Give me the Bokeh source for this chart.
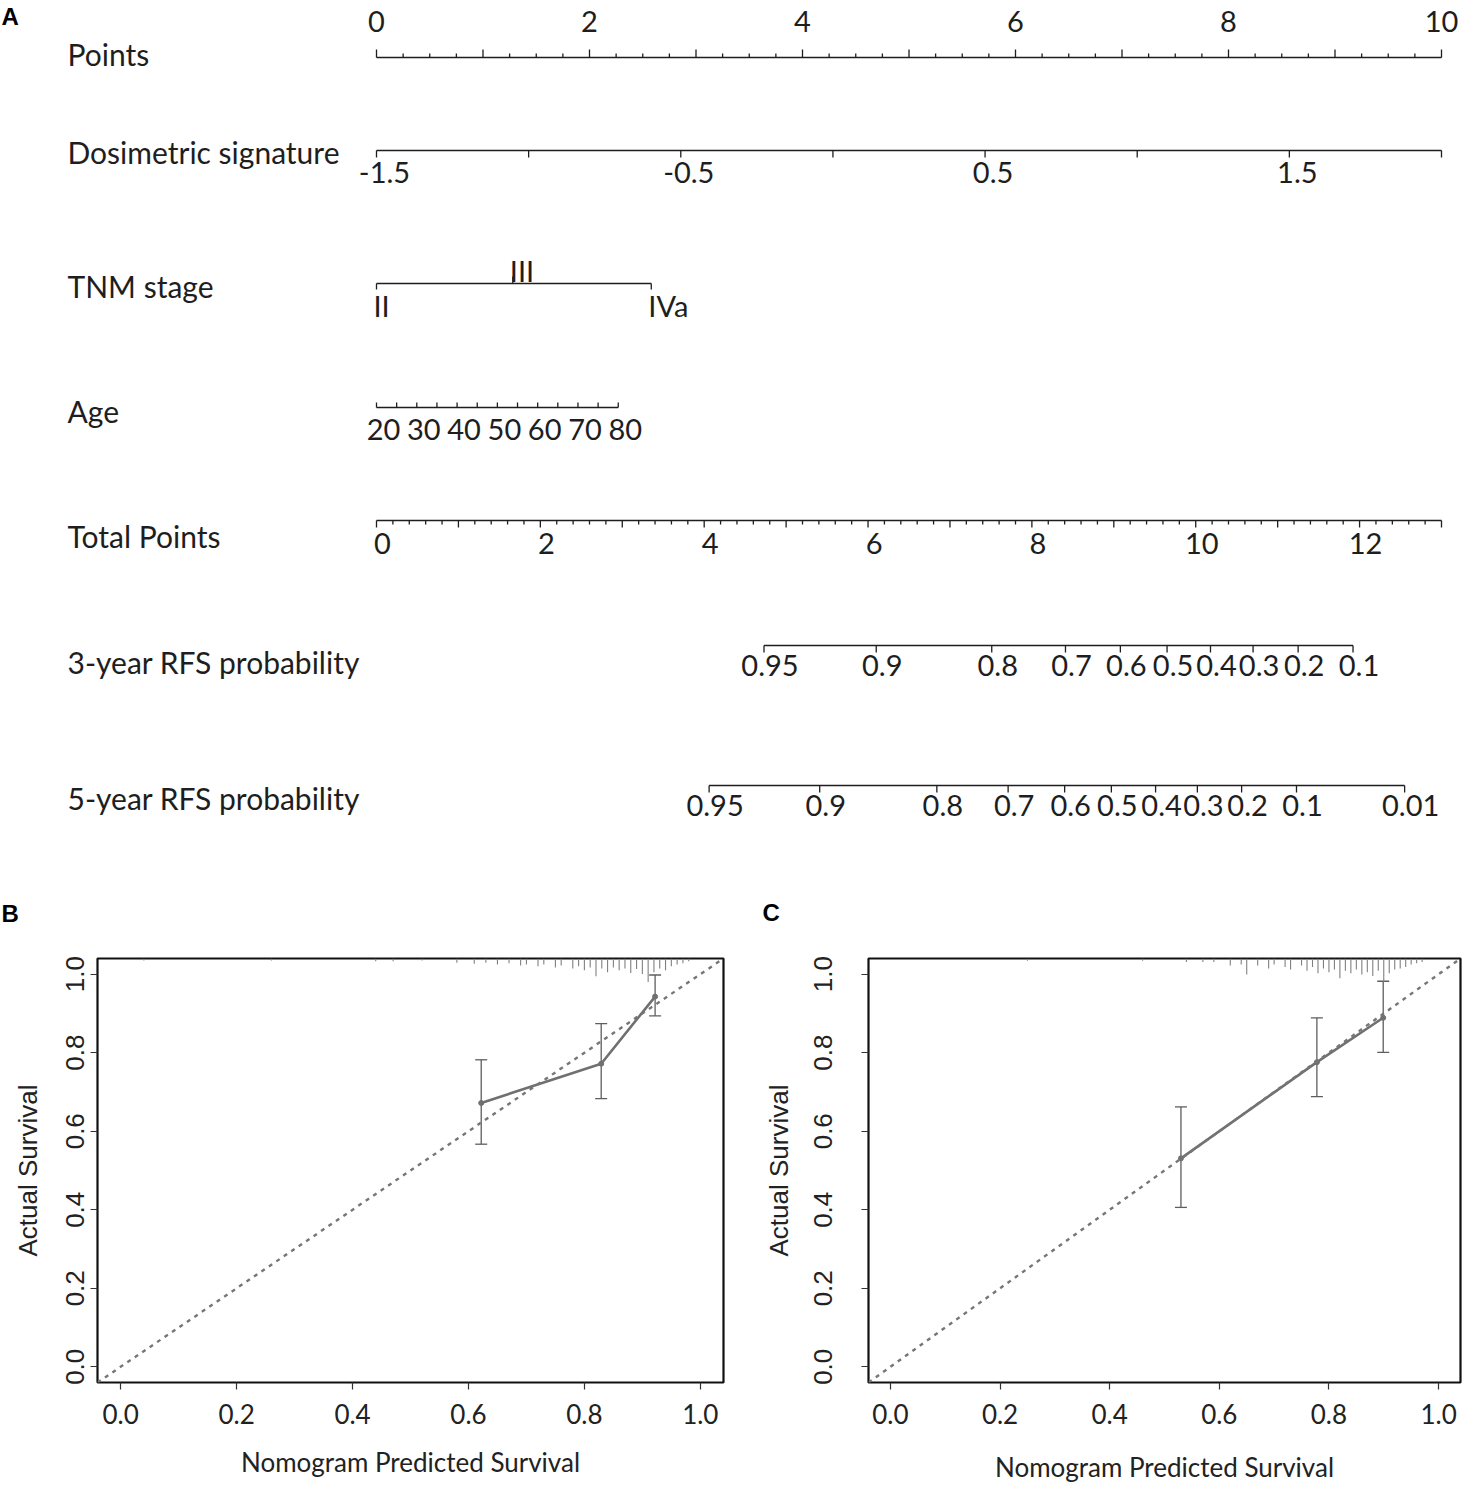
import numpy as np
from bokeh.plotting import figure
from bokeh.models import (Range1d, FixedTicker, NumeralTickFormatter, Slope,
                          Whisker, TeeHead, ColumnDataSource)
from bokeh.layouts import column, row
from bokeh.embed import file_html
from bokeh.resources import INLINE
from bokeh.core.properties import value

# ---------------------------------------------------------------- data
points_min, points_max = 0, 10
points_label_vals = [0, 2, 4, 6, 8, 10]

dosi_min, dosi_max = -1.5, 2.0          # spans 0..10 points
dosi_tick_vals = [-1.5, -1.0, -0.5, 0.0, 0.5, 1.0, 1.5, 2.0]
dosi_label_vals = [-1.5, -0.5, 0.5, 1.5]

tnm_stages = ["II", "III", "IVa"]
tnm_points = [0.0, 1.28, 2.58]

age_min, age_max = 20, 80
age_points_at_max = 2.27
age_tick_vals = list(range(20, 81, 5))
age_label_vals = list(range(20, 81, 10))

total_max = 13
total_label_vals = [0, 2, 4, 6, 8, 10, 12]

rfs3_probs = [0.95, 0.9, 0.8, 0.7, 0.6, 0.5, 0.4, 0.3, 0.2, 0.1]
rfs3_total = [4.73, 6.10, 7.51, 8.41, 9.08, 9.65, 10.18, 10.70, 11.25, 11.92]
rfs5_probs = [0.95, 0.9, 0.8, 0.7, 0.6, 0.5, 0.4, 0.3, 0.2, 0.1, 0.01]
rfs5_total = [4.06, 5.41, 6.84, 7.71, 8.40, 8.97, 9.51, 10.02, 10.56, 11.23, 12.55]

row_names = ["Points", "Dosimetric signature", "TNM stage", "Age",
             "Total Points", "3-year RFS probability", "5-year RFS probability"]

# calibration panel B
calB_pred = [0.622, 0.829, 0.922]
calB_obs = [0.672, 0.772, 0.943]
calB_lo = [0.567, 0.683, 0.894]
calB_hi = [0.782, 0.874, 0.998]
rugB_pred = [0.04, 0.26, 0.44, 0.47, 0.52, 0.58, 0.61, 0.63, 0.65, 0.67, 0.69, 0.70,
             0.72, 0.73, 0.75, 0.76, 0.78, 0.79, 0.80, 0.81, 0.82, 0.83, 0.84, 0.85,
             0.86, 0.87, 0.88, 0.89, 0.90, 0.91, 0.92, 0.93, 0.94, 0.95, 0.96, 0.97, 0.98]
rugB_freq = [0.08, 0.08, 0.12, 0.12, 0.08, 0.18, 0.22, 0.18, 0.25, 0.2, 0.3, 0.25,
             0.33, 0.25, 0.38, 0.3, 0.42, 0.33, 0.5, 0.38, 0.75, 0.42, 0.58, 0.38,
             0.5, 0.42, 0.62, 0.45, 0.66, 1.0, 0.58, 0.42, 0.5, 0.33, 0.25, 0.2, 0.12]

# calibration panel C
calC_pred = [0.530, 0.778, 0.899]
calC_obs = [0.531, 0.776, 0.889]
calC_lo = [0.406, 0.688, 0.801]
calC_hi = [0.662, 0.889, 0.982]
rugC_pred = [0.25, 0.46, 0.54, 0.57, 0.59, 0.62, 0.64, 0.65, 0.67, 0.69, 0.70, 0.72,
             0.73, 0.75, 0.76, 0.77, 0.78, 0.79, 0.80, 0.81, 0.82, 0.83, 0.84, 0.85,
             0.86, 0.87, 0.88, 0.89, 0.90, 0.91, 0.92, 0.93, 0.94, 0.95, 0.96, 0.97]
rugC_freq = [0.1, 0.1, 0.15, 0.15, 0.15, 0.3, 0.25, 0.68, 0.3, 0.42, 0.25, 0.36,
             0.47, 0.3, 0.52, 0.36, 0.63, 0.42, 0.58, 0.47, 0.84, 0.52, 0.63, 0.47,
             0.68, 0.58, 0.74, 0.52, 1.0, 0.63, 0.47, 0.42, 0.36, 0.26, 0.2, 0.15]

cal_ticks = [0.0, 0.2, 0.4, 0.6, 0.8, 1.0]

# ---------------------------------------------------------------- style
INK = "#1e1e1e"
NFONT = "Lato"
ROWSIZE = "30px"
TICKSIZE = "29px"
GRAY = "#707070"

# ---------------------------------------------------------------- panel A
PX_PER_PT = 106.5
X0 = 376.0          # x of 0 points
WA, HA = 1462, 928

pA = figure(width=WA, height=HA, output_backend="svg", toolbar_location=None,
            x_range=Range1d(-X0 / PX_PER_PT, (WA - X0) / PX_PER_PT),
            y_range=Range1d(HA, 0), min_border=0,
            x_axis_location=None, y_axis_location=None)
pA.xgrid.visible = False
pA.ygrid.visible = False
pA.outline_line_color = None


def to_pts_dosi(v):
    return (v - dosi_min) / (dosi_max - dosi_min) * (points_max - points_min)


def to_pts_age(v):
    return (v - age_min) / (age_max - age_min) * age_points_at_max


def to_pts_total(v):
    return v * (points_max - points_min) / total_max


def hline(x0, x1, y):
    pA.segment(x0=[x0], y0=[y], x1=[x1], y1=[y], line_color=INK, line_width=1.4)


def ticks(xs, y, length):
    xs = list(xs)
    pA.segment(x0=xs, y0=[y] * len(xs), x1=xs, y1=[y + length] * len(xs),
               line_color=INK, line_width=1.3)


def labels(xs, y, texts, align="center", xoff=0, size=TICKSIZE):
    xs = list(xs)
    pA.text(x=xs, y=[y] * len(xs), text=list(texts), text_align=align,
            text_baseline="middle", x_offset=xoff, text_font=value(NFONT),
            text_font_size=size, text_color=INK)


LABEL_X = (67 - X0) / PX_PER_PT
row_label_y = [53, 151, 285, 410, 535, 661, 797]
for name, yy in zip(row_names, row_label_y):
    labels([LABEL_X], yy, [name], align="left", size=ROWSIZE)

# Points
yP = 57
hline(points_min, points_max, yP)
minor = np.arange(points_min, points_max + 0.001, 0.25)
ticks([m for m in minor if abs(m - round(m)) > 1e-6], yP, -4)
ticks(range(points_min, points_max + 1), yP, -8)
labels(points_label_vals, 21, [str(v) for v in points_label_vals], xoff=0)

# Dosimetric signature
yD = 150
hline(to_pts_dosi(dosi_min), to_pts_dosi(dosi_max), yD)
ticks([to_pts_dosi(v) for v in dosi_tick_vals], yD, 7)
labels([to_pts_dosi(v) for v in dosi_label_vals], 172,
       [f"{v:g}" for v in dosi_label_vals], xoff=8)

# TNM stage
yT = 283
hline(min(tnm_points), max(tnm_points), yT)
ticks([tnm_points[0], tnm_points[2]], yT, 6)
ticks([tnm_points[1]], yT, -7)
labels([tnm_points[0], tnm_points[2]], 305, [tnm_stages[0], tnm_stages[2]],
       align="left", xoff=-3)
labels([tnm_points[1]], 270, [tnm_stages[1]], align="left", xoff=-3)

# Age
yG = 407
hline(to_pts_age(age_min), to_pts_age(age_max), yG)
ticks([to_pts_age(v) for v in age_tick_vals], yG, -5)
labels([to_pts_age(v) for v in age_label_vals], 429,
       [str(v) for v in age_label_vals], xoff=7)

# Total points
yS = 520
hline(0, to_pts_total(total_max), yS)
tminor = np.arange(0, total_max + 0.001, 0.2)
ticks([to_pts_total(m) for m in tminor if abs(m - round(m)) > 1e-6], yS, 4)
ticks([to_pts_total(m) for m in range(0, total_max + 1)], yS, 7)
labels([to_pts_total(v) for v in total_label_vals], 543,
       [str(v) for v in total_label_vals], xoff=6)

# 3-year RFS
y3 = 645
hline(to_pts_total(min(rfs3_total)), to_pts_total(max(rfs3_total)), y3)
ticks([to_pts_total(v) for v in rfs3_total], y3, 7)
labels([to_pts_total(v) for v in rfs3_total], 665,
       [f"{v:g}" for v in rfs3_probs], xoff=6)

# 5-year RFS
y5 = 785
hline(to_pts_total(min(rfs5_total)), to_pts_total(max(rfs5_total)), y5)
ticks([to_pts_total(v) for v in rfs5_total], y5, 7)
labels([to_pts_total(v) for v in rfs5_total], 805,
       [f"{v:g}" for v in rfs5_probs], xoff=6)

# panel letters
for txt, px, py in [("A", 1, 16), ("B", 1, 913), ("C", 762, 912)]:
    pA.text(x=[(px - X0) / PX_PER_PT], y=[py], text=[txt], text_align="left",
            text_baseline="middle", text_font=value("Liberation Sans"),
            text_font_style="bold", text_font_size="24px", text_color="#000000")


# ---------------------------------------------------------------- panels B, C
def calib_panel(width, left, right, top, bottom, pred, obs, lo, hi, rug_pred, rug_freq,
                lab_standoff, title_standoff, xlab_standoff, xtitle_standoff):
    p = figure(width=width, height=557, output_backend="svg", toolbar_location=None,
               x_range=Range1d(-0.04, 1.04), y_range=Range1d(-0.04, 1.04),
               min_border_left=left, min_border_right=right,
               min_border_top=top, min_border_bottom=bottom)
    p.xgrid.visible = False
    p.ygrid.visible = False
    p.outline_line_color = "#111111"
    p.outline_line_width = 2.2

    for ax in (p.xaxis[0], p.yaxis[0]):
        ax.ticker = FixedTicker(ticks=cal_ticks)
        ax.formatter = NumeralTickFormatter(format="0.0")
        ax.axis_line_color = None
        ax.major_tick_line_color = "#333333"
        ax.major_tick_line_width = 1.2
        ax.major_tick_out = 7
        ax.major_tick_in = 0
        ax.minor_tick_line_color = None
        ax.axis_label_text_font_style = "normal"
        ax.major_label_text_color = "#222222"
        ax.axis_label_text_color = "#222222"

    p.xaxis.axis_label = "Nomogram Predicted Survival"
    p.xaxis.axis_label_text_font = "Lato"
    p.xaxis.axis_label_text_font_size = "26px"
    p.xaxis.major_label_text_font = "Lato"
    p.xaxis.major_label_text_font_size = "26px"
    p.xaxis.major_label_standoff = xlab_standoff
    p.xaxis.axis_label_standoff = xtitle_standoff

    p.yaxis.axis_label = "Actual Survival"
    p.yaxis.axis_label_text_font = "Liberation Sans"
    p.yaxis.axis_label_text_font_size = "26px"
    p.yaxis.major_label_text_font = "Liberation Sans"
    p.yaxis.major_label_text_font_size = "26px"
    p.yaxis.major_label_orientation = "vertical"
    p.yaxis.major_label_standoff = lab_standoff
    p.yaxis.axis_label_standoff = title_standoff

    # rug of predictions hanging from the top border
    top_y = 1.04
    p.segment(x0=rug_pred, y0=[top_y] * len(rug_pred), x1=rug_pred,
              y1=[top_y - 0.06 * f for f in rug_freq],
              line_color="#808080", line_width=1.1)

    # ideal line
    p.add_layout(Slope(gradient=1, y_intercept=0, line_color="#767676",
                       line_width=2.4, line_dash="4 5"))

    # error bars
    src = ColumnDataSource(dict(x=pred, y=obs, lo=lo, hi=hi))
    p.add_layout(Whisker(base="x", lower="lo", upper="hi", source=src,
                         line_color="#5e5e5e", line_width=1.3,
                         upper_head=TeeHead(size=12, line_color="#5e5e5e", line_width=1.3),
                         lower_head=TeeHead(size=12, line_color="#5e5e5e", line_width=1.3)))

    # calibration curve
    p.line(x="x", y="y", source=src, line_color=GRAY, line_width=2.6)
    p.scatter(x="x", y="y", source=src, size=5, fill_color=GRAY, line_color=GRAY)
    return p


pB = calib_panel(760, 97, 37, 30, 93, calB_pred, calB_obs, calB_lo, calB_hi,
                 rugB_pred, rugB_freq, lab_standoff=6, title_standoff=21,
                 xlab_standoff=14, xtitle_standoff=19)
pC = calib_panel(702, 106, 2, 28, 99, calC_pred, calC_obs, calC_lo, calC_hi,
                 rugC_pred, rugC_freq, lab_standoff=29, title_standoff=18,
                 xlab_standoff=14, xtitle_standoff=24)

layout = column(pA, row(pB, pC, spacing=0), spacing=0)
open("out.html", "w").write(file_html(layout, INLINE))
